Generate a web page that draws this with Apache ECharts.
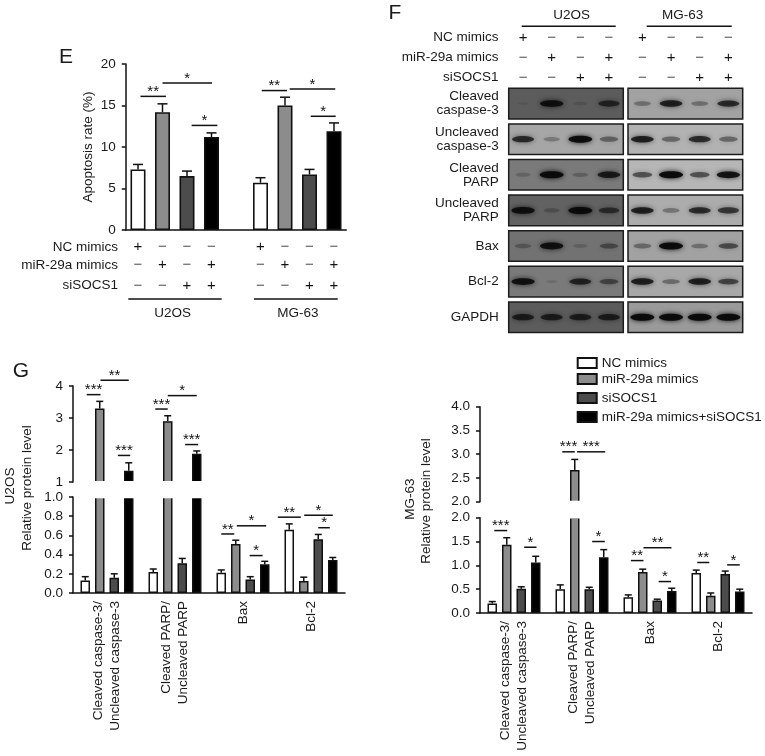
<!DOCTYPE html>
<html>
<head>
<meta charset="utf-8">
<style>
  html, body { margin: 0; padding: 0; background: #fff; }
  #main { width: 765px; height: 756px; }
</style>
<script src="https://cdn.jsdelivr.net/npm/echarts@6/dist/echarts.min.js"></script>
</head>
<body>
<div id="main"></div>
<script>
// treatment groups
var groupNames = ["NC mimics", "miR-29a mimics", "siSOCS1", "miR-29a mimics+siSOCS1"];
var groupFills = ["#ffffff", "#8c8c8c", "#4c4c4c", "#000000"];

// panel E, apoptosis rate, one blank slot between the cell lines
var apoptosisSlots = ["a", "b", "c", "d", "", "e", "f", "g", "h"];
var apoptosisRate = [7.3, 14.2, 6.5, 11.2, null, 5.7, 15, 6.7, 11.9];
var apoptosisTop = [7.9, 15.2, 7.1, 11.7, null, 6.3, 16, 7.3, 12.9];
var apoptosisSig = [
  [0.1, 1.14, 16.1, "**"], [1, 3.02, 17.7, "*"], [2.19, 3.24, 12.6, "*"],
  [5.05, 6.08, 16.8, "**"], [6.19, 8.05, 17, "*"], [7.05, 8.07, 13.7, "*"]
];
var treatNc = ["+", "−", "−", "−"];
var treatMir = ["−", "+", "−", "+"];
var treatSi = ["−", "−", "+", "+"];

// panel F, blots, band strength 0-1 per lane and gel background per row
var blotRows = ["Cleaved\ncaspase-3", "Uncleaved\ncaspase-3", "Cleaved\nPARP", "Uncleaved\nPARP", "Bax", "Bcl-2", "GAPDH"];
var blotLanes = ["1", "2", "3", "4"];
var u2osBands = [
  [0.06, 0.95, 0.25, 0.8], [0.85, 0.45, 0.98, 0.6], [0.35, 1, 0.4, 0.9], [0.95, 0.4, 1, 0.75],
  [0.45, 0.95, 0.3, 0.6], [0.95, 0.15, 0.85, 0.65], [0.85, 0.85, 0.85, 0.85]
];
var mg63Bands = [
  [0.5, 0.9, 0.5, 0.85], [0.9, 0.6, 0.85, 0.6], [0.7, 1, 0.7, 0.95], [0.9, 0.5, 0.85, 0.8],
  [0.55, 1, 0.5, 0.7], [0.9, 0.55, 0.9, 0.75], [1, 1, 1, 1]
];
var u2osGel = ["#5c5c5c", "#a6a6a6", "#7a7a7a", "#626262", "#727272", "#7a7a7a", "#5c5c5c"];
var mg63Gel = ["#a2a2a2", "#b2b2b2", "#b6b6b6", "#acacac", "#a2a2a2", "#a8a8a8", "#9a9a9a"];

// panel G
var proteinLabels = ["Cleaved caspase-3/\nUncleaved caspase-3", "Cleaved PARP/\nUncleaved PARP", "Bax", "Bcl-2"];

var u2osNc = [0.13, 0.22, 0.21, 0.66];
var u2osMir = [3.3, 2.9, 0.51, 0.125];
var u2osSi = [0.16, 0.31, 0.14, 0.56];
var u2osCombo = [1.35, 1.88, 0.3, 0.345];
var u2osNcTop = [0.17, 0.25, 0.24, 0.72];
var u2osMirTop = [3.52, 3.07, 0.55, 0.165];
var u2osSiTop = [0.2, 0.36, 0.17, 0.61];
var u2osComboTop = [1.6, 1.97, 0.33, 0.37];
var u2osSigUpper = [
  [0.1, 1.05, 3.73, "***"], [1.05, 3, 4.18, "**"], [2.25, 3.1, 1.83, "***"],
  [4.14, 5, 3.28, "***"], [5, 7, 3.7, "*"], [6.2, 7.1, 2.17, "***"]
];
var u2osSigLower = [
  [8, 8.9, 0.615, "**"], [9.07, 11.1, 0.7, "*"], [9.96, 10.85, 0.39, "*"],
  [11.9, 12.8, 0.79, "**"], [13.03, 15, 0.81, "*"], [14, 14.8, 0.68, "*"]
];

var mg63Nc = [0.2, 0.5, 0.33, 0.84];
var mg63Mir = [1.43, 2.67, 0.86, 0.36];
var mg63Si = [0.51, 0.5, 0.26, 0.82];
var mg63Combo = [1.06, 1.17, 0.46, 0.45];
var mg63NcTop = [0.24, 0.59, 0.38, 0.9];
var mg63MirTop = [1.58, 2.89, 0.92, 0.42];
var mg63SiTop = [0.55, 0.54, 0.29, 0.88];
var mg63ComboTop = [1.19, 1.33, 0.52, 0.5];
var mg63SigUpper = [[4.14, 5, 3.05, "***"], [5.16, 7.1, 3.05, "***"]];
var mg63SigLower = [
  [0.14, 1.03, 1.73, "***"], [2.2, 3.05, 1.38, "*"], [6.2, 7.07, 1.5, "*"],
  [8.18, 9.05, 1.1, "**"], [9.05, 10.98, 1.37, "**"], [10.1, 10.95, 0.66, "*"],
  [12.07, 12.9, 1.06, "**"], [14.13, 15, 1.01, "*"]
];

var FONT = "Liberation Sans";
var INK = "#111";
var BAR_STEP = 14.5;   // px between bars of one protein group
var BAR_W = 9.5;

var chart = echarts.init(document.getElementById("main"), null, { renderer: "canvas" });

function textEl(text, x, y, size, extra) {
  var el = {
    type: "text", x: x, y: y, z: 120,
    style: {
      text: text, fill: "#1a1a1a", font: size + "px " + FONT,
      align: (extra && extra.align) || "center", verticalAlign: "middle"
    }
  };
  if (extra && extra.rotation) el.rotation = extra.rotation;
  return el;
}

function lineEl(x1, x2, y) {
  return { type: "line", z: 120, shape: { x1: x1, y1: y, x2: x2, y2: y }, style: { stroke: INK, lineWidth: 1.5 } };
}

function overlay(grid, rows, draw) {
  return {
    type: "custom", xAxisIndex: grid, yAxisIndex: grid, silent: true, z: 5,
    data: rows.map(function () { return [0, 0]; }),
    renderItem: function (p, api) { return draw(rows[p.dataIndex], api); }
  };
}

// x pixel of bar b when four bars are spread around each category
function groupedX(api, b) {
  var g = Math.floor(b / 4);
  return api.coord([g, 0])[0] + (b - 4 * g - 1.5) * BAR_STEP;
}
function slotX(api, b) {
  return api.coord([0, 0])[0] + b * api.size([1, 0])[0];
}

function sigSeries(grid, rows, xOf) {
  return overlay(grid, rows, function (r, api) {
    var x1 = xOf(api, r[0]), x2 = xOf(api, r[1]), y = api.coord([0, r[2]])[1];
    return {
      type: "group",
      children: [
        { type: "line", shape: { x1: x1, y1: y, x2: x2, y2: y }, style: { stroke: INK, lineWidth: 1.5 } },
        { type: "text", style: { x: (x1 + x2) / 2, y: y + 3, text: r[3], fill: INK, font: "15px " + FONT, align: "center", verticalAlign: "bottom" } }
      ]
    };
  });
}

function errSeries(grid, rows, xOf, capHalf) {
  return overlay(grid, rows, function (r, api) {
    var x = xOf(api, r[0]), y0 = api.coord([0, r[1]])[1], y1 = api.coord([0, r[2]])[1];
    return {
      type: "group",
      children: [
        { type: "line", shape: { x1: x, y1: y0, x2: x, y2: y1 }, style: { stroke: INK, lineWidth: 1.5 } },
        { type: "line", shape: { x1: x - capHalf, y1: y1, x2: x + capHalf, y2: y1 }, style: { stroke: INK, lineWidth: 1.5 } }
      ]
    };
  });
}

var grids = [
  { left: 125.75, top: 64, width: 220.5, height: 166 },      // 0 E
  { left: 73, top: 386, width: 272, height: 96 },            // 1 G U2OS upper
  { left: 73, top: 497, width: 272, height: 96 },            // 2 G U2OS lower
  { left: 480, top: 406.7, width: 272, height: 95 },         // 3 G MG-63 upper
  { left: 480, top: 517.7, width: 272, height: 95.3 },       // 4 G MG-63 lower
  { left: 508.7, top: 85.8, width: 114.6, height: 249.2 },   // 5 F U2OS
  { left: 628, top: 85.8, width: 114.7, height: 249.2 }      // 6 F MG-63
];

var axisLine = { lineStyle: { color: INK, width: 1.5 } };
var axisTick = { length: 4, lineStyle: { color: INK, width: 1.5 } };
var axisText = { color: "#1a1a1a", fontSize: 13.5, fontFamily: FONT, margin: 10 };

function valueAxis(grid, min, max, step, digits) {
  return {
    type: "value", gridIndex: grid, min: min, max: max, interval: step,
    splitLine: { show: false }, axisLine: { show: true, lineStyle: axisLine.lineStyle }, axisTick: { show: true, length: 4, lineStyle: axisTick.lineStyle },
    axisLabel: Object.assign({}, axisText, { showMinLabel: true, showMaxLabel: true, formatter: function (v) { return v.toFixed(digits); } })
  };
}

function groupAxis(grid, labelled) {
  return {
    type: "category", gridIndex: grid, data: proteinLabels, show: labelled,
    axisLine: axisLine,
    axisTick: { alignWithLabel: true, length: 4, lineStyle: axisTick.lineStyle },
    axisLabel: { interval: 0, rotate: 90, margin: 8, fontSize: 13.5, lineHeight: 16.5, color: "#1a1a1a", fontFamily: FONT }
  };
}

var xAxes = [
  {
    type: "category", gridIndex: 0, data: apoptosisSlots,
    axisLine: axisLine,
    axisTick: { alignWithLabel: true, length: 4, lineStyle: axisTick.lineStyle, interval: function (i) { return i !== 4; } },
    axisLabel: { show: false }
  },
  groupAxis(1, false), groupAxis(2, true), groupAxis(3, false), groupAxis(4, true),
  { type: "category", gridIndex: 5, data: blotLanes, show: false },
  { type: "category", gridIndex: 6, data: blotLanes, show: false }
];

var yAxes = [
  valueAxis(0, 0, 20, 5, 0),
  valueAxis(1, 1, 4, 1, 0), valueAxis(2, 0, 1, 0.2, 1),
  valueAxis(3, 2, 4, 0.5, 1), valueAxis(4, 0, 2, 0.5, 1),
  {
    type: "category", gridIndex: 5, data: blotRows, inverse: true,
    axisLine: { show: false }, axisTick: { show: false },
    axisLabel: { fontSize: 13.5, lineHeight: 14, margin: 10, align: "right", color: "#1a1a1a", fontFamily: FONT, interval: 0 }
  },
  { type: "category", gridIndex: 6, data: blotRows, inverse: true, show: false }
];

var series = [];

// panel E
series.push({
  type: "bar", xAxisIndex: 0, yAxisIndex: 0, barWidth: 15,
  data: apoptosisRate.map(function (v, i) {
    var k = i < 4 ? i : i - 5;
    return v === null ? "-" : { value: v, itemStyle: { color: groupFills[k], borderColor: INK, borderWidth: 1.6 } };
  })
});
var apoErr = [];
apoptosisRate.forEach(function (v, i) { if (v !== null) apoErr.push([i, v, apoptosisTop[i]]); });
series.push(errSeries(0, apoErr, slotX, 5));
series.push(sigSeries(0, apoptosisSig, slotX));

// panel E treatment rows under the axis
function treatmentSeries(grid, treat, rowYs, xOf, slots) {
  var rows = [];
  treat.forEach(function (row, r) {
    slots.forEach(function (slot, k) { rows.push([slot, rowYs[r], row[k]]); });
  });
  return overlay(grid, rows, function (r, api) {
    return {
      type: "text",
      style: { x: xOf(api, r[0]), y: r[1], text: r[2], fill: r[2] === "+" ? "#111" : "#555", font: "15px " + FONT, align: "center", verticalAlign: "middle" }
    };
  });
}
var treatAll = [treatNc, treatMir, treatSi];
series.push(treatmentSeries(0, treatAll.map(function (t) { return t.concat(t); }), [247, 265, 286], slotX, [0, 1, 2, 3, 5, 6, 7, 8]));

// panel F
function blotSeries(grid, bands, gel) {
  return overlay(grid, bands.map(function (b, i) { return [i, b, gel[i]]; }), function (r, api) {
    var size = api.size([1, 1]);
    var yc = api.coord([0, r[0]])[1];
    var left = api.coord([0, r[0]])[0] - size[0] / 2;
    var kids = [{
      type: "rect",
      shape: { x: left, y: yc - 15.3, width: size[0] * 4, height: 30.6 },
      style: { fill: r[2], stroke: "#1c1c1c", lineWidth: 1.5 }
    }];
    r[1].forEach(function (s, lane) {
      var cx = api.coord([lane, r[0]])[0];
      var c = "rgba(8,8,8," + (0.08 + 0.87 * s * s).toFixed(2) + ")";
      kids.push({
        type: "ellipse",
        shape: { cx: cx, cy: yc, rx: 5 + 7 * s, ry: 1.2 + 2.3 * s },
        style: { fill: c, shadowBlur: 5, shadowColor: c }
      });
    });
    return { type: "group", children: kids };
  });
}
series.push(blotSeries(5, u2osBands, u2osGel));
series.push(blotSeries(6, mg63Bands, mg63Gel));
series.push(treatmentSeries(5, treatAll, [37.7, 57.7, 77.7], function (api, b) { return api.coord([b, 0])[0]; }, [0, 1, 2, 3]));
series.push(treatmentSeries(6, treatAll, [37.7, 57.7, 77.7], function (api, b) { return api.coord([b, 0])[0]; }, [0, 1, 2, 3]));

// panel G, same bars on both sides of the axis break
function brokenBars(upper, lower, breakAt, values, tops, sigUpper, sigLower) {
  values.forEach(function (vals, k) {
    var style = { color: groupFills[k], borderColor: INK, borderWidth: 1.5 };
    series.push({
      type: "bar", name: groupNames[k], xAxisIndex: lower, yAxisIndex: lower,
      barWidth: BAR_W, barGap: "52.6%", itemStyle: style, data: vals
    });
    series.push({
      type: "bar", xAxisIndex: upper, yAxisIndex: upper,
      barWidth: BAR_W, barGap: "52.6%", itemStyle: style,
      data: vals.map(function (v) { return v > breakAt ? v : "-"; })
    });
  });
  var errLow = [], errUp = [];
  values.forEach(function (vals, k) {
    vals.forEach(function (v, g) {
      var row = [g * 4 + k, v, tops[k][g]];
      if (v > breakAt) errUp.push(row); else errLow.push(row);
    });
  });
  series.push(errSeries(lower, errLow, groupedX, 3.5));
  series.push(errSeries(upper, errUp, groupedX, 3.5));
  series.push(sigSeries(upper, sigUpper, groupedX));
  series.push(sigSeries(lower, sigLower, groupedX));
}
brokenBars(1, 2, 1, [u2osNc, u2osMir, u2osSi, u2osCombo], [u2osNcTop, u2osMirTop, u2osSiTop, u2osComboTop], u2osSigUpper, u2osSigLower);
brokenBars(3, 4, 2, [mg63Nc, mg63Mir, mg63Si, mg63Combo], [mg63NcTop, mg63MirTop, mg63SiTop, mg63ComboTop], mg63SigUpper, mg63SigLower);

// one legend per row because the rows are not evenly spaced
var legendTops = [356, 372, 391, 410];
var legends = groupNames.map(function (name, i) {
  return {
    data: [name], left: 576.7, top: legendTops[i], padding: 0, orient: "vertical",
    icon: "rect", itemWidth: 19, itemHeight: 10, selectedMode: false,
    textStyle: { fontSize: 13.5, color: "#1a1a1a", fontFamily: FONT }
  };
});

var graphics = [
  // white strips hide the bar caps at the axis break
  { type: "rect", z: 100, shape: { x: 74, y: 481, width: 272, height: 17.2 }, style: { fill: "#fff" } },
  { type: "rect", z: 100, shape: { x: 481, y: 500.7, width: 272, height: 17.9 }, style: { fill: "#fff" } },

  textEl("E", 66, 57, 21), textEl("F", 395, 13, 21), textEl("G", 21, 371, 21),

  textEl("Apoptosis rate (%)", 88, 147, 13.5, { rotation: Math.PI / 2 }),
  textEl("NC mimics", 118, 247, 13.5, { align: "right" }),
  textEl("miR-29a mimics", 118, 265, 13.5, { align: "right" }),
  textEl("siSOCS1", 118, 285, 13.5, { align: "right" }),
  lineEl(128.3, 221.7, 299), lineEl(254, 337.7, 299),
  textEl("U2OS", 172.7, 313, 13.5), textEl("MG-63", 298, 313, 13.5),

  textEl("U2OS", 571.7, 15.5, 13.5), textEl("MG-63", 682.7, 15.5, 13.5),
  lineEl(521.7, 615.7, 26.3), lineEl(646.7, 731.7, 26.3),
  textEl("NC mimics", 498.5, 37.5, 13.5, { align: "right" }),
  textEl("miR-29a mimics", 498.5, 57, 13.5, { align: "right" }),
  textEl("siSOCS1", 498.5, 77, 13.5, { align: "right" }),

  textEl("U2OS", 10.5, 486, 13.5, { rotation: Math.PI / 2 }),
  textEl("Relative protein level", 27, 488, 13.5, { rotation: Math.PI / 2 }),
  textEl("MG-63", 410, 499, 13.5, { rotation: Math.PI / 2 }),
  textEl("Relative protein level", 426.7, 501, 13.5, { rotation: Math.PI / 2 })
];

chart.setOption({
  animation: false,
  backgroundColor: "#fff",
  textStyle: { fontFamily: FONT },
  grid: grids,
  xAxis: xAxes,
  yAxis: yAxes,
  legend: legends,
  graphic: graphics,
  series: series
});
</script>
</body>
</html>
